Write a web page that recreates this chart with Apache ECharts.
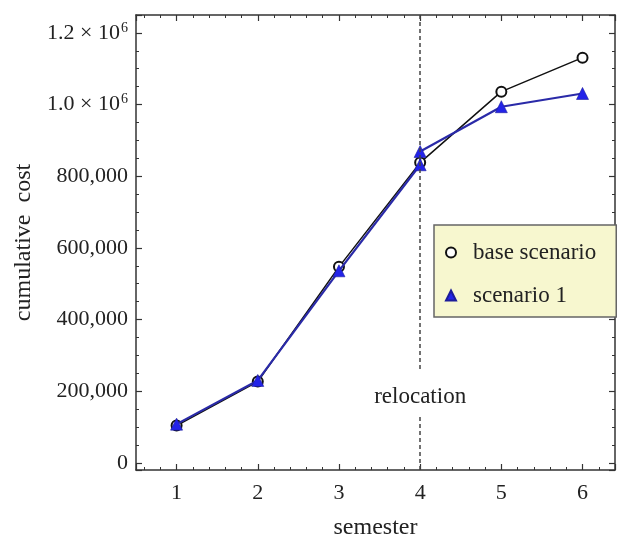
<!DOCTYPE html>
<html>
<head>
<meta charset="utf-8">
<script src="https://cdn.jsdelivr.net/npm/echarts@6/dist/echarts.min.js"></script>
<style>
  html, body { margin: 0; padding: 0; background: #fff; }
  #chart { width: 617px; height: 536px; }
</style>
</head>
<body>
<div id="chart"></div>
<script>
// donnees
const semesters = [1, 2, 3, 4, 5, 6];
const baseCost = [104000, 227000, 547000, 838000, 1036000, 1131000];
// scenario 1 : deux points au semestre 4 (saut a la relocalisation)
const sc1Semesters = [1, 2, 3, 4, 4, 5, 6];
const sc1Cost = [108000, 230000, 536000, 832000, 869000, 994000, 1031000];
const relocationX = 4;
const relocationLabelY = 185000;

const yMin = -20000, yMax = 1250000;
const xMin = 0.5, xMax = 6.4;

const serif = 'Liberation Serif';
const ink = '#222';

function pairs(xs, ys) {
    return xs.map((x, i) => [x, ys[i]]);
}

function yLabel(v) {
    if (v >= 1000000) return '{a|' + (v / 1000000).toFixed(1) + ' \u00d7 10}{s|6}';
    return '{a|' + v.toLocaleString('en-US') + '}';
}

let chart = echarts.init(document.getElementById('chart'));

const tickStyle = { show: true, inside: true, length: 6, lineStyle: { color: '#333', width: 1.2 } };
const minorStyle = { show: true, length: 3, lineStyle: { color: '#333', width: 1 } };
const lineStyleAxis = { show: true, onZero: false, lineStyle: { color: '#333', width: 1.5 } };

let options = {
    animation: false,
    backgroundColor: '#fff',
    grid: { left: 136, top: 15, right: 2, bottom: 66, containLabel: false, outerBoundsMode: 'none' },
    legend: {
        orient: 'vertical',
        left: 434,
        top: 225,
        padding: [16, 20, 10, 11],
        itemGap: 20,
        itemWidth: 10,
        itemHeight: 10,
        backgroundColor: '#f7f7cf',
        borderColor: '#666',
        borderWidth: 1.5,
        borderRadius: 0,
        textStyle: { fontFamily: serif, fontSize: 23, color: ink, lineHeight: 23, padding: [0, 0, 0, 12] },
        data: [
            { name: 'base scenario', icon: 'emptyCircle', itemStyle: { color: '#111', borderWidth: 1.5 } },
            { name: 'scenario 1', icon: 'triangle' }
        ]
    },
    xAxis: [{
        type: 'value', min: xMin, max: xMax,
        minInterval: 1, maxInterval: 1, splitNumber: 6,
        name: 'semester', nameLocation: 'middle', nameGap: 46,
        nameTextStyle: { fontFamily: serif, fontSize: 24, color: ink },
        axisLine: lineStyleAxis,
        axisTick: tickStyle,
        minorTick: Object.assign({ splitNumber: 5 }, minorStyle),
        splitLine: { show: false },
        axisLabel: { fontFamily: serif, fontSize: 22, color: ink, margin: 12, showMinLabel: false, showMaxLabel: false }
    }, {
        type: 'value', min: xMin, max: xMax, position: 'top',
        minInterval: 1, maxInterval: 1, splitNumber: 6,
        axisLine: lineStyleAxis,
        axisTick: tickStyle,
        minorTick: Object.assign({ splitNumber: 5 }, minorStyle),
        splitLine: { show: false },
        axisLabel: { show: false }
    }],
    yAxis: [{
        type: 'value', min: yMin, max: yMax,
        minInterval: 200000, maxInterval: 200000, splitNumber: 6,
        name: 'cumulative  cost', nameLocation: 'middle', nameGap: 100,
        nameTextStyle: { fontFamily: serif, fontSize: 24, color: ink },
        axisLine: lineStyleAxis,
        axisTick: tickStyle,
        minorTick: Object.assign({ splitNumber: 4 }, minorStyle),
        splitLine: { show: false },
        axisLabel: {
            margin: 8, showMinLabel: false, showMaxLabel: false,
            formatter: yLabel,
            rich: {
                a: { fontFamily: serif, fontSize: 22, color: ink },
                s: { fontFamily: serif, fontSize: 14, color: ink, verticalAlign: 'top', padding: [0, 0, 10, 1] }
            }
        }
    }, {
        type: 'value', min: yMin, max: yMax, position: 'right',
        minInterval: 200000, maxInterval: 200000, splitNumber: 6,
        axisLine: lineStyleAxis,
        axisTick: tickStyle,
        minorTick: Object.assign({ splitNumber: 4 }, minorStyle),
        splitLine: { show: false },
        axisLabel: { show: false }
    }],
    series: [
        {
            name: 'base scenario',
            type: 'line',
            data: pairs(semesters, baseCost),
            symbol: 'emptyCircle',
            symbolSize: 10,
            lineStyle: { color: '#111', width: 1.5 },
            itemStyle: { color: '#111', borderWidth: 1.6 },
            z: 2,
            markLine: {
                silent: true,
                symbol: 'none',
                label: { show: false },
                lineStyle: { color: '#444', type: [4, 3], width: 1.5 },
                data: [
                    [{ coord: [relocationX, yMax] }, { coord: [relocationX, 260000] }],
                    [{ coord: [relocationX, 128000] }, { coord: [relocationX, yMin] }]
                ]
            },
            markPoint: {
                silent: true,
                symbol: 'circle',
                symbolSize: 0,
                label: { show: true, position: 'inside', formatter: 'relocation', fontFamily: serif, fontSize: 23, color: ink },
                data: [{ coord: [relocationX, relocationLabelY] }]
            }
        },
        {
            name: 'scenario 1',
            type: 'line',
            data: pairs(sc1Semesters, sc1Cost),
            symbol: 'triangle',
            symbolSize: 12,
            lineStyle: { color: '#2a2aa8', width: 2.2 },
            itemStyle: { color: '#2323e8', borderColor: '#1c1c9a', borderWidth: 0.6 },
            z: 3
        }
    ]
};

chart.setOption(options);
window.onresize = () => chart.resize();
</script>
</body>
</html>
